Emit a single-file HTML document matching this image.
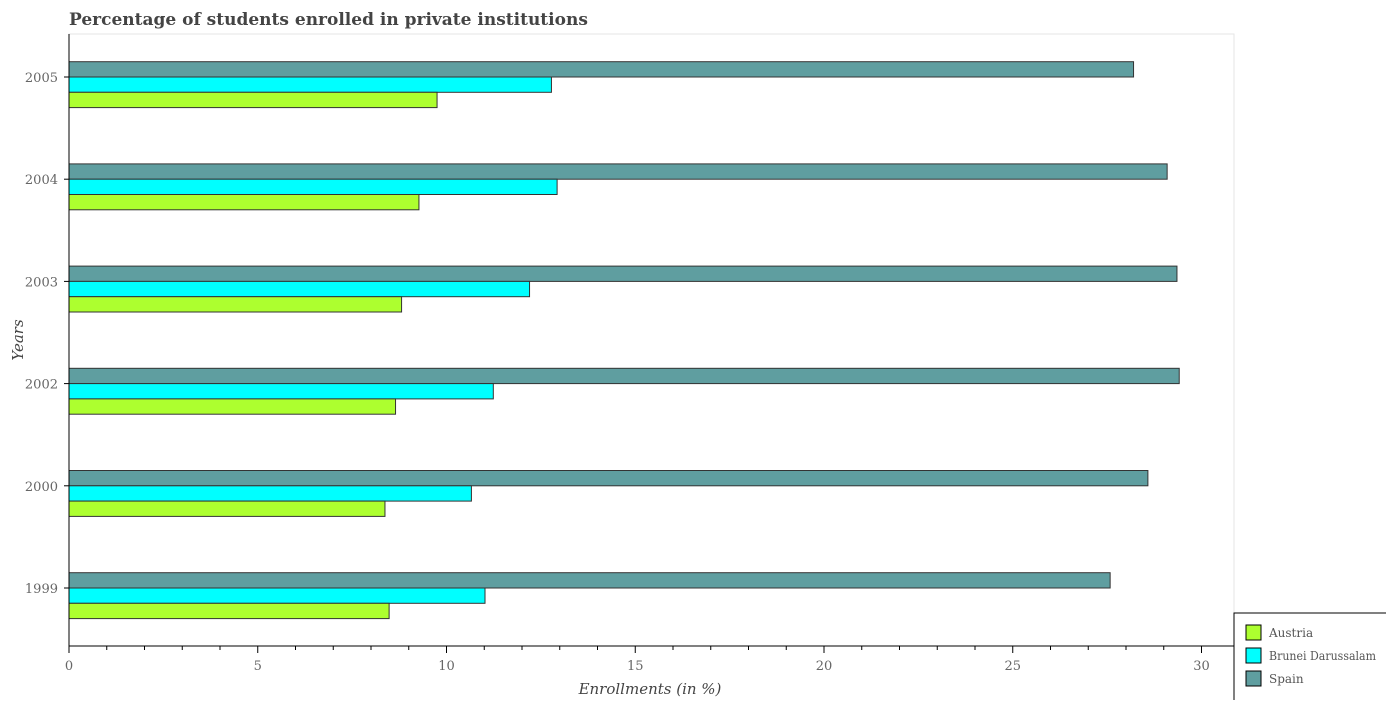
<!DOCTYPE html>
<html><head><meta charset="utf-8"><style>
body{margin:0;background:#fff;font-family:"DejaVu Serif","Liberation Serif",serif;}
svg text{font-family:"DejaVu Serif","Liberation Serif",serif;}
</style></head><body>
<svg id="c" width="1386" height="700">
<text x="69" y="25" font-size="17" font-weight="bold" fill="#444">Percentage of students enrolled in private institutions</text>
<rect x="69" y="34" width="1165" height="612" fill="#fff" stroke="#e6e6e6"/>
<g id="bars"></g>
<g id="axes"></g>
<text x="650" y="694" font-size="15" font-style="italic" text-anchor="middle" fill="#444">Enrollments (in %)</text>
<text transform="translate(23,340) rotate(-90)" font-size="15" font-style="italic" text-anchor="middle" fill="#444">Years</text>
<g>
<rect x="1234" y="613" width="160" height="100" fill="#fff" stroke="#000"/>
<rect x="1246" y="625" width="15" height="15" fill="#adff2f" stroke="#000"/>
<text x="1269" y="637" font-size="12" fill="#555">Austria</text>
<rect x="1246" y="648" width="15" height="15" fill="#00ffff" stroke="#000"/>
<text x="1269" y="660" font-size="12" fill="#555" textLength="107" lengthAdjust="spacingAndGlyphs">Brunei Darussalam</text>
<rect x="1246" y="671" width="15" height="15" fill="#5f9ea0" stroke="#000"/>
<text x="1269" y="683" font-size="12" fill="#555">Spain</text>
</g>
</svg>
<script>
const years=["1999","2000","2002","2003","2004","2005"];
const austria=[8.48,8.37,8.65,8.81,9.27,9.75];
const brunei=[11.02,10.66,11.24,12.2,12.93,12.78];
const spain=[27.58,28.58,29.41,29.35,29.09,28.2];
const xTicks=[0,5,10,15,20,25,30];
const NS="http://www.w3.org/2000/svg";
const x=v=>69+v*37.75;
const yTick=i=>588-i*102.2;
const bars=document.getElementById('bars'),axes=document.getElementById('axes');
function mk(tag,a,p){const e=document.createElementNS(NS,tag);for(const k in a)e.setAttribute(k,a[k]);p.appendChild(e);return e;}
const series=[[spain,"#5f9ea0",-15.3,"spain"],[brunei,"#00ffff",0,"brunei"],[austria,"#adff2f",15.3,"austria"]];
years.forEach((yr,i)=>{
  series.forEach(s=>{
    const r=mk('rect',{x:69,y:yTick(i)+s[2],width:x(s[0][i])-69,height:15.3,fill:s[1],stroke:"#333","stroke-width":1},bars);
    
    
  });
  mk('line',{x1:64,x2:69,y1:yTick(i),y2:yTick(i),stroke:"#000"},axes);
  const t=mk('text',{x:58,y:yTick(i)+5,"font-size":13,fill:"#666","text-anchor":"end"},axes);
  t.textContent=yr;
  
  
});
mk('line',{x1:69,x2:69,y1:34,y2:646,stroke:"#000"},axes);
mk('line',{x1:69,x2:1234,y1:646,y2:646,stroke:"#000"},axes);
for(let v=0;v<=30.5;v+=1){
  const big=v%5===0;
  mk('line',{x1:x(v),x2:x(v),y1:646,y2:big?653:650,stroke:"#000"},axes);
}
xTicks.forEach(v=>{
  const t=mk('text',{x:x(v),y:670,"font-size":13,fill:"#666","text-anchor":"middle"},axes);
  t.textContent=v;
  
  
});
</script>
</body></html>
